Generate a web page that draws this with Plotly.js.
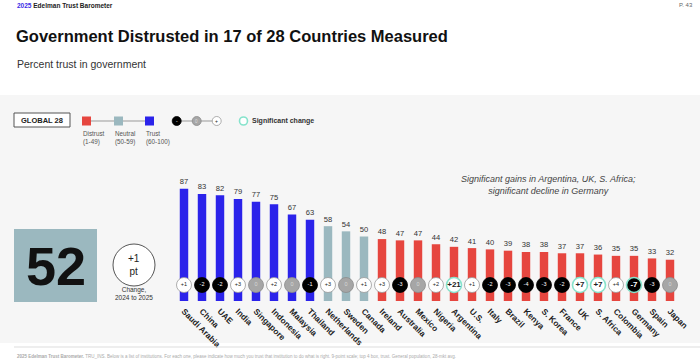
<!DOCTYPE html>
<html>
<head>
<meta charset="utf-8">
<script src="https://cdn.plot.ly/plotly-3.0.1.min.js"></script>
<style>html,body{margin:0;padding:0;background:#fff;}#chart{width:700px;height:360px;}</style>
</head>
<body>
<div id="chart"></div>
<script>
const countries = ["Saudi Arabia","China","UAE","India","Singapore","Indonesia","Malaysia","Thailand","Netherlands","Sweden","Canada","Ireland","Australia","Mexico","Nigeria","Argentina","U.S.","Italy","Brazil","Kenya","S. Korea","France","UK","S. Africa","Colombia","Germany","Spain","Japan"];
const trust = [87,83,82,79,77,75,67,63,58,54,50,48,47,47,44,42,41,40,39,38,38,37,37,36,35,35,33,32];
const change = [1,-2,-2,3,0,2,0,-1,3,0,1,3,-3,0,2,21,1,-2,-3,-4,-3,-2,7,7,4,-7,-3,0];
const significant = ["Argentina","UK","S. Africa","Germany"];
const globalTrust = 52;
const globalChange = 1;

const FONT = "Liberation Sans, Arial, sans-serif";
const L = 175, R = 21, T = 172, B = 59;
const W = 700 - L - R, PH = 360 - T - B;
const px = v => (v - L) / W;
const py = v => (360 - B - v) / PH;

const colTrust = "#2b23ea", colNeutral = "#9bb8bf", colDistrust = "#e6463f";
const barColor = v => v >= 60 ? colTrust : (v >= 50 ? colNeutral : colDistrust);

const isSig = countries.map(c => significant.includes(c));
const chgText = change.map((c, i) => {
  const s = c > 0 ? "+" + c : String(c);
  return isSig[i] ? "<b>" + s + "</b>" : s;
});
const fill = change.map(c => c > 0 ? "#ffffff" : (c < 0 ? "#000000" : "#a6a6a6"));
const lineCol = change.map((c, i) => isSig[i] ? "#86e3cc" : (c > 0 ? "#9a9a9a" : (c < 0 ? "#000000" : "#8c8c8c")));
const txtCol = change.map(c => c > 0 ? "#222" : (c < 0 ? "#fff" : "#d8d8d8"));
const txtSize = isSig.map(s => s ? 8 : 5.5);
const circY = (301 - 285) / PH * 100;

const bars = {
  type: "bar", x: countries, y: trust,
  marker: {color: trust.map(barColor)},
  width: 0.47,
  text: trust.map(String), textposition: "outside",
  textfont: {family: FONT, size: 9.5, color: "#333"},
  cliponaxis: false, hoverinfo: "x+y"
};
const circles = {
  type: "scatter", mode: "markers+text", x: countries, y: countries.map(() => circY),
  marker: {size: 15, color: fill, line: {color: lineCol, width: isSig.map(s => s ? 1.6 : 0.8)}},
  text: chgText, textposition: "middle center",
  textfont: {family: FONT, size: txtSize, color: txtCol},
  cliponaxis: false, hoverinfo: "skip"
};

const shapes = [
  {type:"rect", xref:"paper", yref:"paper", x0:px(0), x1:px(700), y0:py(343), y1:py(95), fillcolor:"#f6f6f6", line:{width:0}, layer:"below"},
  {type:"line", xref:"paper", yref:"paper", x0:px(14), x1:px(700), y0:py(347), y1:py(347), line:{color:"#dddddd", width:1}},
  {type:"rect", xref:"paper", yref:"paper", x0:px(14), x1:px(70), y0:py(127), y1:py(113), fillcolor:"#ffffff", line:{color:"#555", width:1}},
  {type:"line", xref:"paper", yref:"paper", x0:px(87), x1:px(149), y0:py(121), y1:py(121), line:{color:"#999", width:1}},
  {type:"rect", xref:"paper", yref:"paper", x0:px(82), x1:px(91), y0:py(125.5), y1:py(116.5), fillcolor:colDistrust, line:{width:0}},
  {type:"rect", xref:"paper", yref:"paper", x0:px(114), x1:px(123), y0:py(125.5), y1:py(116.5), fillcolor:colNeutral, line:{width:0}},
  {type:"rect", xref:"paper", yref:"paper", x0:px(145), x1:px(154), y0:py(125.5), y1:py(116.5), fillcolor:colTrust, line:{width:0}},
  {type:"line", xref:"paper", yref:"paper", x0:px(177), x1:px(217), y0:py(121), y1:py(121), line:{color:"#999", width:1}},
  {type:"circle", xref:"paper", yref:"paper", x0:px(172.2), x1:px(181.2), y0:py(125.5), y1:py(116.5), fillcolor:"#000", line:{color:"#000", width:0.8}},
  {type:"circle", xref:"paper", yref:"paper", x0:px(192.2), x1:px(201.2), y0:py(125.5), y1:py(116.5), fillcolor:"#a6a6a6", line:{color:"#8c8c8c", width:0.8}},
  {type:"circle", xref:"paper", yref:"paper", x0:px(212.2), x1:px(221.2), y0:py(125.5), y1:py(116.5), fillcolor:"#fff", line:{color:"#9a9a9a", width:0.8}},
  {type:"circle", xref:"paper", yref:"paper", x0:px(239.5), x1:px(247.5), y0:py(125), y1:py(117), fillcolor:"#fff", line:{color:"#86e3cc", width:1.6}},
  {type:"rect", xref:"paper", yref:"paper", x0:px(14), x1:px(97), y0:py(302), y1:py(229), fillcolor:colNeutral, line:{width:0}},
  {type:"circle", xref:"paper", yref:"paper", x0:px(113), x1:px(155), y0:py(286), y1:py(244), fillcolor:"#fff", line:{color:"#555", width:1}}
];

const ann = (x, y, text, opts) => Object.assign({xref:"paper", yref:"paper", x:px(x), y:py(y), text:text, showarrow:false, xanchor:"left", yanchor:"middle", font:{family:FONT, size:8, color:"#333"}}, opts || {});

const annotations = [
  ann(15, 5, '<b><span style="color:#3b2ee6">2025</span> Edelman Trust Barometer</b>', {font:{family:FONT, size:6.5, color:"#222"}}),
  ann(695, 5, "P. 43", {xanchor:"right", font:{family:FONT, size:6, color:"#666"}}),
  ann(14, 36, "<b>Government Distrusted in 17 of 28 Countries Measured</b>", {font:{family:FONT, size:16.5, color:"#111"}}),
  ann(15, 64, "Percent trust in government", {font:{family:FONT, size:10.5, color:"#333"}}),
  ann(42, 120, "<b>GLOBAL 28</b>", {xanchor:"center", font:{family:FONT, size:7.5, color:"#222"}}),
  ann(81, 138, "Distrust<br>(1-49)", {align:"left", font:{family:FONT, size:6.3, color:"#555"}}),
  ann(113, 138, "Neutral<br>(50-59)", {align:"left", font:{family:FONT, size:6.3, color:"#555"}}),
  ann(144, 138, "Trust<br>(60-100)", {align:"left", font:{family:FONT, size:6.3, color:"#555"}}),
  ann(176.7, 121, "-", {xanchor:"center", font:{family:FONT, size:5, color:"#fff"}}),
  ann(196.7, 121, "0", {xanchor:"center", font:{family:FONT, size:4.5, color:"#ddd"}}),
  ann(216.7, 121, "+", {xanchor:"center", font:{family:FONT, size:5, color:"#222"}}),
  ann(250, 120.5, "<b>Significant change</b>", {font:{family:FONT, size:7, color:"#333"}}),
  ann(55.5, 266, "<b>" + globalTrust + "</b>", {xanchor:"center", font:{family:FONT, size:54, color:"#111"}}),
  ann(134, 265, (globalChange > 0 ? "+" : "") + globalChange + "<br>pt", {xanchor:"center", font:{family:FONT, size:10, color:"#222"}}),
  ann(134, 293, "Change,<br>2024 to 2025", {xanchor:"center", font:{family:FONT, size:6.5, color:"#333"}}),
  ann(548, 184.5, "<i>Significant gains in Argentina, UK, S. Africa;<br>significant decline in Germany</i>", {xanchor:"center", font:{family:FONT, size:9, color:"#444"}}),
  ann(15, 356, "<b>2025 Edelman Trust Barometer.</b> TRU_INS. Below is a list of institutions. For each one, please indicate how much you trust that institution to do what is right. 9-point scale; top 4 box, trust. General population, 28-mkt avg.", {font:{family:FONT, size:4.5, color:"#aaa"}})
];

const layout = {
  width: 700, height: 360,
  margin: {l: L, r: R, t: T, b: B, pad: 0, autoexpand: false},
  paper_bgcolor: "rgba(0,0,0,0)", plot_bgcolor: "rgba(0,0,0,0)",
  showlegend: false,
  xaxis: {type: "category", range: [-0.5, countries.length - 0.5], automargin: false, tickangle: 45, ticklabelstandoff: 3,
          showline: false, showgrid: false, zeroline: false, ticks: "",
          tickfont: {family: FONT, size: 8.3, color: "#222", weight: "bold"}, fixedrange: true},
  yaxis: {range: [0, 100], automargin: false, visible: false, showgrid: false, zeroline: false, fixedrange: true},
  shapes: shapes, annotations: annotations,
  font: {family: FONT}
};

Plotly.newPlot("chart", [bars, circles], layout, {displayModeBar: false, staticPlot: true});
</script>
</body>
</html>
